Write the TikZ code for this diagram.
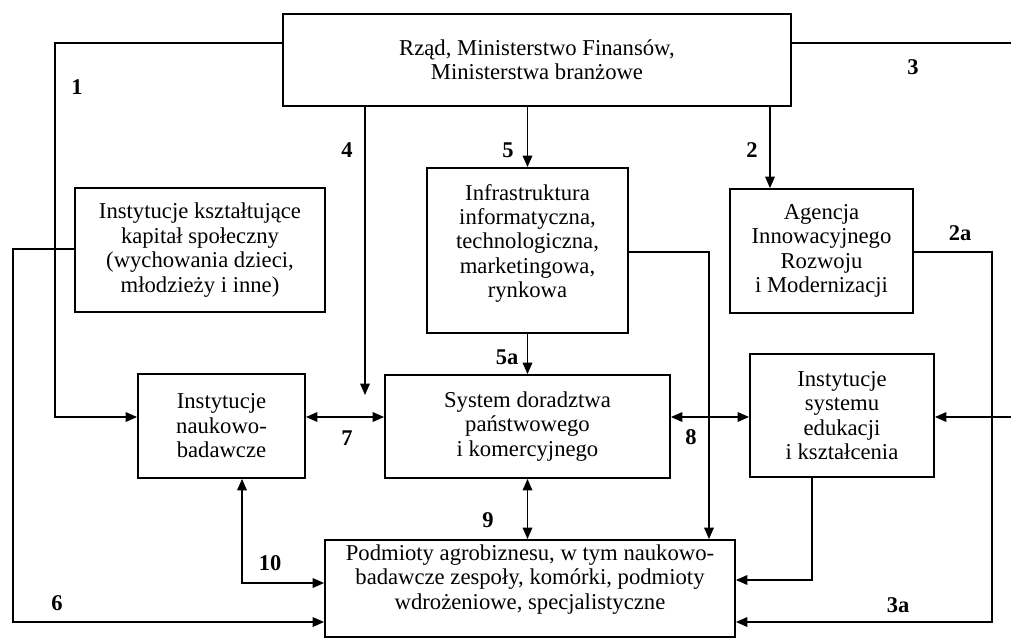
\documentclass[tikz,border=0pt]{standalone}
\usepackage{fontspec}
\setmainfont{Liberation Serif}
\usetikzlibrary{arrows.meta}
\tikzstyle{box} = [rectangle, draw=black, line width=1.1pt, text centered, align=center, inner sep=0pt]
\tikzstyle{link} = [line width=0.7pt]
\tikzstyle{arrow} = [line width=0.7pt, -{Triangle[length=6.5pt,width=5.5pt]}]
\tikzstyle{twoway} = [line width=0.7pt, {Triangle[length=6.5pt,width=5.5pt]}-{Triangle[length=6.5pt,width=5.5pt]}]
\tikzstyle{num} = [font=\fontsize{12.8}{14}\selectfont\bfseries]

\begin{document}
\begin{tikzpicture}[x=0.02cm, y=-0.02cm, font=\fontsize{12.9}{13.9}\selectfont]

    \useasboundingbox (0,0) rectangle (1011,640);

    \node (rzad) [box, minimum width=10.16cm, minimum height=1.84cm] at (537,60) {Rząd, Ministerstwo Finansów,\\Ministerstwa branżowe};
    \node (kapital) [box, minimum width=5cm, minimum height=2.48cm] at (200,250) {Instytucje kształtujące\\kapitał społeczny\\(wychowania dzieci,\\młodzieży i inne)};
    \node (infra) [box, minimum width=4.02cm, minimum height=3.3cm, text depth=0.38cm] at (527.5,250.5) {Infrastruktura\\informatyczna,\\technologiczna,\\marketingowa,\\rynkowa};
    \node (agencja) [box, minimum width=3.66cm, minimum height=2.48cm] at (821.5,251) {Agencja\\Innowacyjnego\\Rozwoju\\i Modernizacji};
    \node (naukowo) [box, minimum width=3.34cm, minimum height=2.08cm] at (221.5,426) {Instytucje\\naukowo-\\badawcze};
    \node (doradztwo) [box, minimum width=5.7cm, minimum height=2.06cm] at (527.5,426.5) {System doradztwa\\państwowego\\i komercyjnego};
    \node (edukacja) [box, minimum width=3.68cm, minimum height=2.46cm] at (842,415.5) {Instytucje\\systemu\\edukacji\\i kształcenia};
    \node (podmioty) [box, minimum width=8.2cm, minimum height=1.94cm, text depth=0.46cm] at (530,588.5) {Podmioty agrobiznesu, w tym naukowo-\\badawcze zespoły, komórki, podmioty\\wdrożeniowe, specjalistyczne};

    \coordinate (end4) at (365,395);

    \draw [arrow] (rzad.west |- 0,43) -- (55,43) -- (55,417) -- (naukowo.west |- 0,417);
    \draw [arrow] (rzad.south -| 770,0) -- (agencja.north -| 770,0);
    \draw [arrow] (rzad.east |- 0,43) -- (1016,43) -- (1016,417) -- (edukacja.east |- 0,417);
    \draw [arrow] (rzad.south -| end4) -- (end4);
    \draw [arrow] (rzad.south -| infra.north) -- (infra.north);
    \draw [arrow] (infra.south) -- (doradztwo.north);
    \draw [arrow] (infra.east |- 0,252) -- (709,252) -- (podmioty.north -| 709,0);
    \draw [arrow] (kapital.west |- 0,249) -- (13,249) -- (13,622) -- (podmioty.west |- 0,622);
    \draw [twoway] (naukowo.east |- 0,417) -- (doradztwo.west |- 0,417);
    \draw [twoway] (doradztwo.east |- 0,417) -- (edukacja.west |- 0,417);
    \draw [twoway] (doradztwo.south) -- (podmioty.north -| doradztwo.south);
    \draw [twoway] (naukowo.south -| 242,0) -- (242,583) -- (podmioty.west |- 0,583);
    \draw [arrow] (edukacja.south -| 812,0) -- (812,580) -- (podmioty.east |- 0,580);
    \draw [arrow] (agencja.east |- 0,252) -- (992,252) -- (992,622) -- (podmioty.east |- 0,622);

    \node (n1) [num] at (77,87) {1};
    \node (n2) [num] at (752,150) {2};
    \node (n2a) [num] at (960,233) {2a};
    \node (n3) [num] at (913,67) {3};
    \node (n3a) [num] at (898,605) {3a};
    \node (n4) [num] at (347,150) {4};
    \node (n5) [num] at (508,150) {5};
    \node (n5a) [num] at (507,357) {5a};
    \node (n6) [num] at (57,603) {6};
    \node (n7) [num] at (347,438) {7};
    \node (n8) [num] at (691,437) {8};
    \node (n9) [num] at (488,520) {9};
    \node (n10) [num] at (270,563) {10};

\end{tikzpicture}
\end{document}
